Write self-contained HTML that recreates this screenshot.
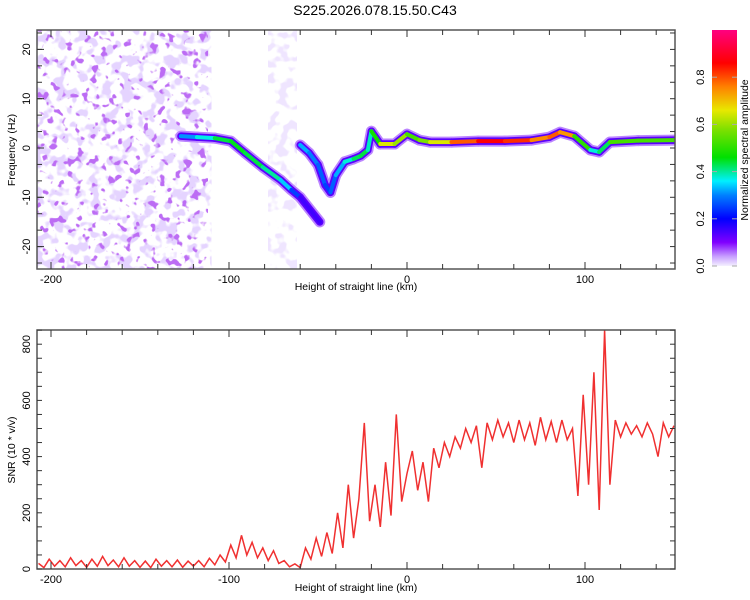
<!DOCTYPE html>
<html><head><meta charset="utf-8"><style>
body{margin:0;background:#fff;}
svg{display:block;font-family:"Liberation Sans",sans-serif;}
</style></head><body>
<svg id="c" width="750" height="600" viewBox="0 0 750 600">
<defs>
<filter id="speck" x="0" y="0" width="1" height="1">
<feTurbulence type="fractalNoise" baseFrequency="0.09" numOctaves="2" seed="7"/>
<feColorMatrix type="matrix" values="0 0 0 0 0.78  0 0 0 0 0.66  0 0 0 0 1  2 0 0 0 -1.02"/>
<feComponentTransfer><feFuncA type="linear" slope="5" intercept="0"/></feComponentTransfer>
</filter>
<filter id="speck2" x="0" y="0" width="1" height="1">
<feTurbulence type="fractalNoise" baseFrequency="0.12" numOctaves="2" seed="21"/>
<feColorMatrix type="matrix" values="0 0 0 0 0.5  0 0 0 0 0.15  0 0 0 0 0.9  2 0 0 0 -1.22"/>
<feComponentTransfer><feFuncA type="linear" slope="6" intercept="0"/></feComponentTransfer>
</filter>
<linearGradient id="cbar" x1="0" y1="1" x2="0" y2="0">
<stop offset="0" stop-color="#f4f0ff"/><stop offset="0.04" stop-color="#c8a0ff"/><stop offset="0.1" stop-color="#8000ff"/>
<stop offset="0.2" stop-color="#0000ff"/><stop offset="0.3" stop-color="#0080ff"/><stop offset="0.36" stop-color="#00f0ff"/>
<stop offset="0.46" stop-color="#00e000"/><stop offset="0.58" stop-color="#80e000"/><stop offset="0.66" stop-color="#e8e800"/>
<stop offset="0.76" stop-color="#ff8000"/><stop offset="0.86" stop-color="#ff0000"/><stop offset="1" stop-color="#ff0080"/>
</linearGradient>
<clipPath id="clipTop"><rect x="37" y="30" width="638" height="239"/></clipPath>
<clipPath id="clipBot"><rect x="37" y="330" width="638" height="239"/></clipPath>
</defs>
<text x="375" y="15" text-anchor="middle" font-size="14">S225.2026.078.15.50.C43</text>
<g id="topg" clip-path="url(#clipTop)"></g>
<g id="bot" clip-path="url(#clipBot)"></g>
<g id="axes"></g>
</svg>
<script>
const kmTicks=[-200,-100,0,100];
const freqTicks=[20,10,0,-10,-20];
const snrTicks=[0,200,400,600,800];
const cbarTicks=[0.0,0.2,0.4,0.6,0.8];
const ridgeKm=[-127,-118,-108,-99,-91,-81,-71,-65,-60,-49];
const ridgeHz=[2.4,2.2,2.0,1.4,-1,-3.9,-6.5,-8.5,-10,-15];
const ridgeAmp=[0.3,0.32,0.42,0.45,0.45,0.42,0.38,0.3,0.2,0.1];
const ridge2Km=[-60,-55,-50,-46,-43,-40,-35,-30,-26,-22,-20,-15,-7,0,7,13,25,40,55,70,80,86,94,103,108,114,130,151];
const ridge2Hz=[0.6,-1,-3.4,-7.5,-9,-5.5,-2.8,-2.2,-1.6,-0.4,3.4,0.8,0.8,2.8,1.6,1.2,1.2,1.4,1.4,1.6,2.2,3.2,2.4,-0.4,-0.8,1.2,1.5,1.6];
const ridge2Amp=[0.35,0.3,0.3,0.25,0.25,0.3,0.35,0.4,0.45,0.42,0.35,0.6,0.7,0.5,0.55,0.6,0.7,0.88,0.85,0.8,0.7,0.88,0.6,0.4,0.35,0.5,0.55,0.5];
const snrStart=-207, snrStep=3;
const snrVals=[20,5,35,10,30,8,40,12,30,6,
35,10,45,12,32,8,40,10,30,6,
28,5,35,10,30,8,32,6,28,10,
30,8,38,15,50,25,85,40,120,50,
95,40,75,30,65,20,30,8,18,5,
75,35,110,45,130,55,200,75,300,110,
250,520,170,300,150,380,190,550,240,340,
420,280,380,240,430,360,450,400,470,430,
500,450,510,360,520,460,530,470,520,450,
530,460,520,440,540,460,525,450,530,460,
500,260,620,300,700,210,850,300,530,470,
520,480,510,470,520,480,400,520,470,510];

const NS='http://www.w3.org/2000/svg';
const X=km=>407+(km)*1.78;
const YF=f=>148-f*4.93;
const YS=v=>569-v*0.281;
function mk(tag,attrs,parent){const e=document.createElementNS(NS,tag);for(const k in attrs)e.setAttribute(k,attrs[k]);parent.appendChild(e);return e;}
const stops=[[0,[244,240,255]],[0.04,[200,160,255]],[0.1,[128,0,255]],[0.2,[0,0,255]],[0.3,[0,128,255]],[0.36,[0,240,255]],[0.46,[0,224,0]],[0.58,[128,224,0]],[0.66,[232,232,0]],[0.76,[255,128,0]],[0.86,[255,0,0]],[1,[255,0,128]]];
function cmap(a){for(let i=1;i<stops.length;i++){if(a<=stops[i][0]){const t=(a-stops[i-1][0])/(stops[i][0]-stops[i-1][0]);const c=stops[i-1][1].map((v,j)=>Math.round(v+(stops[i][1][j]-v)*t));return `rgb(${c})`;}}return 'rgb(255,0,128)';}

const topG=document.getElementById('topg');
const n1=mk('rect',{x:37,y:30,width:X(-110)-37,height:239,filter:'url(#speck)',fill:'#fff'},topG);


const n1b=mk('rect',{x:37,y:30,width:X(-112)-37,height:239,filter:'url(#speck2)',fill:'#fff'},topG);


const n2=mk('rect',{x:X(-78),y:30,width:X(-62)-X(-78),height:239,filter:'url(#speck)',fill:'#fff',opacity:0.6},topG);


function drawRidge(km,hz,amp,name){
  const g=mk('g',{},topG);
  
  
  [[11,0.05],[7.5,0.13],[4,null]].forEach(([w,a])=>{
    for(let i=0;i<km.length-1;i++){
      const aa=a===null?(amp[i]+amp[i+1])/2:Math.min(a,amp[i]);
      mk('line',{x1:X(km[i]),y1:YF(hz[i]),x2:X(km[i+1]),y2:YF(hz[i+1]),stroke:cmap(aa),'stroke-width':w,'stroke-linecap':'round'},g);
    }
  });
}
drawRidge(ridgeKm,ridgeHz,ridgeAmp,'ridge-descending');
drawRidge(ridge2Km,ridge2Hz,ridge2Amp,'ridge-main');

const bot=document.getElementById('bot');
const pts=snrVals.map((v,i)=>X(snrStart+i*snrStep).toFixed(1)+','+YS(v).toFixed(1)).join(' ');
const pl=mk('polyline',{points:pts,fill:'none',stroke:'#f03030','stroke-width':1.5},bot);



const ax=document.getElementById('axes');
function frame(y0,h,name){const r=mk('rect',{x:37,y:y0,width:638,height:h,fill:'none',stroke:'#555','stroke-width':1.5},ax);}
frame(30,239,'top-frame');frame(330,239,'bottom-frame');
[[30,269],[330,569]].forEach(([t,b])=>{
  for(let k=-200;k<=150;k+=20){const x=X(k),L=(k%100===0)?7:5;mk('line',{x1:x,y1:b,x2:x,y2:b-L,stroke:'#333'},ax);mk('line',{x1:x,y1:t,x2:x,y2:t+L,stroke:'#333'},ax);}
});
kmTicks.forEach(k=>{[283,583].forEach(y=>{const t=mk('text',{x:X(k),y:y,'text-anchor':'middle','font-size':11},ax);t.textContent=k;});});
[[290,'x-axis-title-top'],[591,'x-axis-title-bottom']].forEach(([y,n])=>{const t=mk('text',{x:356,y:y,'text-anchor':'middle','font-size':10.5},ax);t.textContent='Height of straight line (km)';});
for(let f=-23.33;f<=24;f+=3.333){const y=YF(f);mk('line',{x1:37,y1:y,x2:42,y2:y,stroke:'#333'},ax);mk('line',{x1:675,y1:y,x2:670,y2:y,stroke:'#333'},ax);}
freqTicks.forEach(f=>{const y=YF(f);mk('line',{x1:37,y1:y,x2:44,y2:y,stroke:'#333'},ax);const t=mk('text',{x:0,y:0,'text-anchor':'middle','font-size':11,transform:`translate(30,${y}) rotate(-90)`},ax);t.textContent=f;});
for(let v=0;v<=850;v+=50){const y=YS(v);mk('line',{x1:37,y1:y,x2:42,y2:y,stroke:'#333'},ax);mk('line',{x1:675,y1:y,x2:670,y2:y,stroke:'#333'},ax);}
snrTicks.forEach(v=>{const y=YS(v);const t=mk('text',{x:0,y:0,'text-anchor':'middle','font-size':11,transform:`translate(30,${y}) rotate(-90)`},ax);t.textContent=v;});
let t=mk('text',{x:0,y:0,'text-anchor':'middle','font-size':10.5,transform:'translate(15,150) rotate(-90)'},ax);t.textContent='Frequency (Hz)';
t=mk('text',{x:0,y:0,'text-anchor':'middle','font-size':10.5,transform:'translate(15,450) rotate(-90)'},ax);t.textContent='SNR (10 * v/v)';
const cb=mk('rect',{x:712,y:30,width:25,height:236,fill:'url(#cbar)'},ax);
const YC=v=>266-v*236;
cbarTicks.forEach(v=>{const y=YC(v);mk('line',{x1:712,y1:y,x2:717,y2:y,stroke:'#aaa'},ax);mk('line',{x1:737,y1:y,x2:732,y2:y,stroke:'#aaa'},ax);const tt=mk('text',{x:0,y:0,'text-anchor':'middle','font-size':11,transform:`translate(704,${y}) rotate(-90)`},ax);tt.textContent=v.toFixed(1);});
t=mk('text',{x:0,y:0,'text-anchor':'middle','font-size':10.5,transform:'translate(748,150) rotate(-90)'},ax);t.textContent='Normalized spectral amplitude';
</script>
</body></html>
